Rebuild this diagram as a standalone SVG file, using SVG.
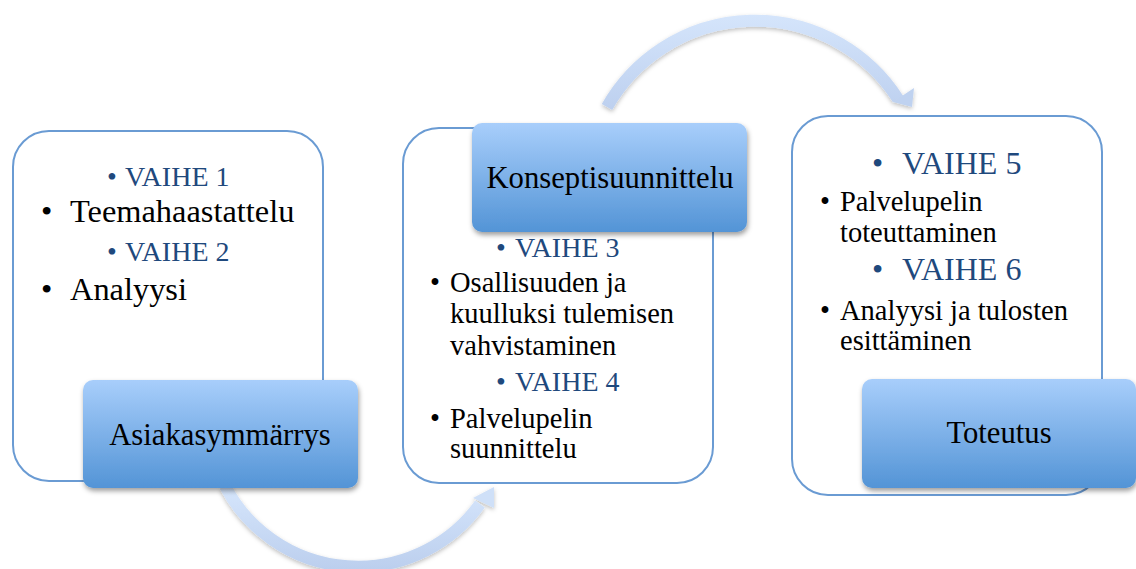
<svg xmlns="http://www.w3.org/2000/svg" width="1136" height="569" viewBox="0 0 1136 569">
  <defs>
    <linearGradient id="labelFill" x1="0" y1="0" x2="0" y2="1">
      <stop offset="0" stop-color="#a8cefb"/>
      <stop offset="1" stop-color="#5394d6"/>
    </linearGradient>
    <linearGradient id="arrowTop" gradientUnits="userSpaceOnUse" x1="0" y1="10" x2="0" y2="110">
      <stop offset="0" stop-color="#d6e6fc"/>
      <stop offset="1" stop-color="#bdd0ef"/>
    </linearGradient>
    <linearGradient id="arrowBottom" gradientUnits="userSpaceOnUse" x1="0" y1="485" x2="0" y2="569">
      <stop offset="0" stop-color="#d6e6fc"/>
      <stop offset="1" stop-color="#bccfee"/>
    </linearGradient>
    <filter id="labelShadow" x="-10%" y="-10%" width="120%" height="130%">
      <feDropShadow dx="1" dy="3" stdDeviation="2.5" flood-color="#000" flood-opacity="0.38"/>
    </filter>
    <filter id="arrowShadow" x="-10%" y="-10%" width="120%" height="130%">
      <feDropShadow dx="0" dy="2" stdDeviation="2" flood-color="#000" flood-opacity="0.25"/>
    </filter>
    <style>
      .panel { fill: #ffffff; stroke: #6a9bd3; stroke-width: 2; }
      .label { fill: url(#labelFill); filter: url(#labelShadow); }
      .serif { font-family: "Liberation Serif", "Times New Roman", serif; }
      .title { font-size: 30.7px; fill: #000; text-anchor: middle; }
      .item { font-size: 28.5px; fill: #000; }
      .item32 { font-size: 32.4px; fill: #000; }
      .phase { font-size: 28px; fill: #1f497d; }
      .phase32 { font-size: 32px; fill: #1f497d; }
    </style>
  </defs>

  <!-- curved arrows between the phases -->
  <g id="connectors">
    <g filter="url(#arrowShadow)">
      <path d="M 607 107 A 170 170 0 0 1 898 99" fill="none" stroke="url(#arrowTop)" stroke-width="12"/>
      <polygon points="893,102 914,88 912,107" fill="#bfd2f0"/>
    </g>
    <g filter="url(#arrowShadow)">
      <path d="M 225 486 A 150 150 0 0 0 480 504" fill="none" stroke="url(#arrowBottom)" stroke-width="12"/>
      <polygon points="473,498 494,487 494,508" fill="#cfe0f8"/>
    </g>
  </g>

  <!-- phase 1 -->
  <g id="node-asiakasymmarrys" class="serif">
    <rect class="panel" x="13" y="131" width="310" height="350" rx="36"/>
    <text class="phase" x="107" y="186">•</text>
    <text class="phase" x="125" y="186">VAIHE 1</text>
    <text class="item32" x="41" y="222">•</text>
    <text class="item32" x="70" y="222">Teemahaastattelu</text>
    <text class="phase" x="107" y="261">•</text>
    <text class="phase" x="125" y="261">VAIHE 2</text>
    <text class="item32" x="41" y="300">•</text>
    <text class="item32" x="70" y="300">Analyysi</text>
    <rect class="label" x="83" y="380" width="275" height="108" rx="10"/>
    <text class="title" x="220" y="445">Asiakasymmärrys</text>
  </g>

  <!-- phase 2 -->
  <g id="node-konseptisuunnittelu" class="serif">
    <rect class="panel" x="403" y="128" width="310" height="355" rx="36"/>
    <rect class="label" x="472" y="123" width="275" height="109" rx="10"/>
    <text class="title" x="610" y="188">Konseptisuunnittelu</text>
    <text class="phase" x="496" y="257">•</text>
    <text class="phase" x="515" y="257">VAIHE 3</text>
    <text class="item" x="430" y="292">•</text>
    <text class="item" x="450" y="292">Osallisuuden ja</text>
    <text class="item" x="450" y="323">kuulluksi tulemisen</text>
    <text class="item" x="450" y="355">vahvistaminen</text>
    <text class="phase" x="496" y="391">•</text>
    <text class="phase" x="515" y="391">VAIHE 4</text>
    <text class="item" x="430" y="428">•</text>
    <text class="item" x="450" y="428">Palvelupelin</text>
    <text class="item" x="450" y="458">suunnittelu</text>
  </g>

  <!-- phase 3 -->
  <g id="node-toteutus" class="serif">
    <rect class="panel" x="792" y="116" width="310" height="379" rx="36"/>
    <text class="phase32" x="872" y="174">•</text>
    <text class="phase32" x="902" y="174">VAIHE 5</text>
    <text class="item" x="820" y="211">•</text>
    <text class="item" x="840" y="211">Palvelupelin</text>
    <text class="item" x="840" y="242">toteuttaminen</text>
    <text class="phase32" x="872" y="280">•</text>
    <text class="phase32" x="902" y="280">VAIHE 6</text>
    <text class="item" x="820" y="320">•</text>
    <text class="item" x="840" y="320">Analyysi ja tulosten</text>
    <text class="item" x="840" y="350">esittäminen</text>
    <rect class="label" x="862" y="379" width="274" height="109" rx="10"/>
    <text class="title" x="999" y="443">Toteutus</text>
  </g>
</svg>
